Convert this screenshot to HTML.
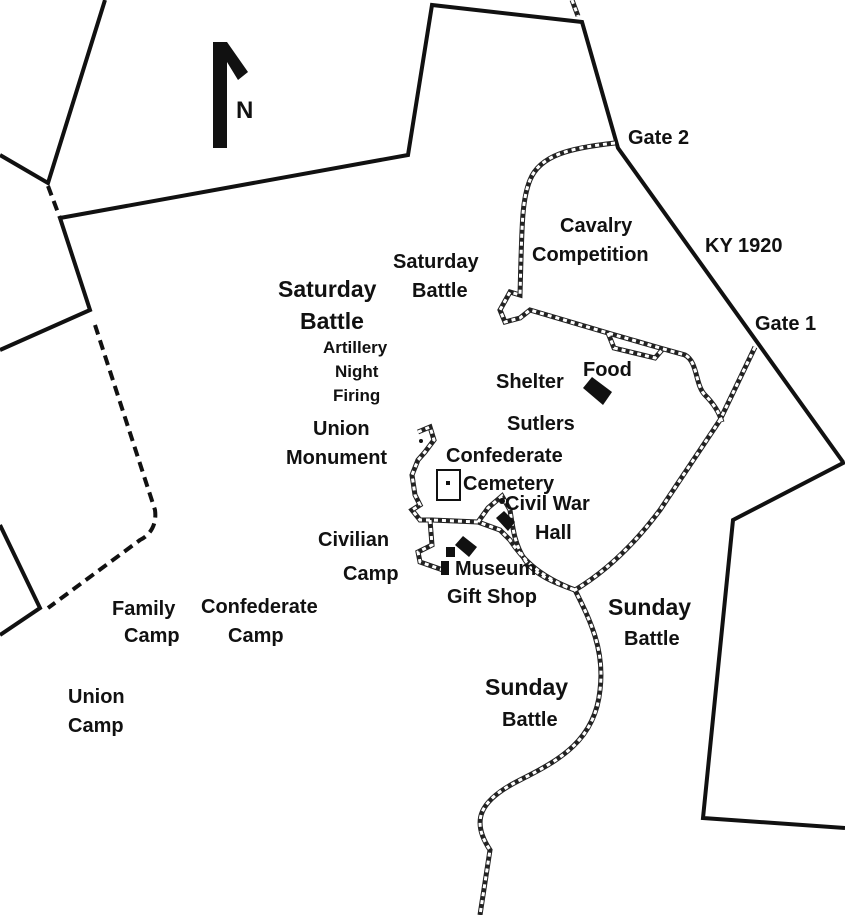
<!DOCTYPE html>
<html><head><meta charset="utf-8"><style>
html,body{margin:0;padding:0;background:#fff}
svg{display:block}
text{font-family:"Liberation Sans",sans-serif;font-weight:bold;fill:#111}
</style></head><body>
<svg width="845" height="915" viewBox="0 0 845 915" xmlns="http://www.w3.org/2000/svg">
<defs>
<g id="roads" fill="none">
<path d="M615,143 C570,148 540,155 530,180 C522,200 522,220 520,295 L510,292 L500,310 L505,322 L520,318 L530,310 L608,333 L660,348 L685,355 C698,362 695,385 705,395 C715,405 720,415 722,422"/>
<path d="M608,333 L614,348 L655,358 L662,350"/>
<path d="M755,347 L720,420 L660,510 C630,550 600,575 575,590 C590,620 605,650 600,690 C595,740 560,760 520,780 C480,800 470,820 490,850 L480,915"/>
<path d="M575,590 C555,583 535,575 525,560 C515,545 513,530 510,510 L502,496 L488,508 L478,522"/>
<path d="M418,432 L430,427 L434,440 L425,452 L418,460 L412,475 L415,495 L420,505 L412,510 L420,520 L432,520 L478,522 L500,530 L510,540 C520,555 535,575 575,590"/>
<path d="M430,520 L432,545 L418,552 L420,562 L443,570"/>
<path d="M572,0 L578,16"/>
</g>
</defs>
<rect width="845" height="915" fill="#fff"/>
<g fill="none" stroke="#111" stroke-width="4" stroke-linejoin="miter">
<polyline points="105,0 48,183 0,155"/>
<polyline points="60,218 408,155 432,5 582,22 618,148 843,462"/>
<polyline points="60,218 90,310 0,350"/>
<polyline points="0,525 40,608 0,635"/>
<polyline points="845,462 733,520 703,818 845,828"/>
</g>
<g fill="none" stroke="#111" stroke-width="4" stroke-dasharray="10 6">
<polyline points="48,186 60,218"/>
<path d="M95,325 L155,510 C157,525 150,535 140,540 L48,608"/>
</g>
<use href="#roads" stroke="#222" stroke-width="5"/>
<use href="#roads" stroke="#fff" stroke-width="3" stroke-dasharray="4 4"/>
<g fill="#111">
<rect x="213" y="42" width="14" height="106"/>
<polygon points="213,42 227,42 248,72 238,80 227,62"/>
<polygon points="583,388 592,377 612,392 603,405"/>
<polygon points="455,545 463,536 477,547 469,557"/>
<polygon points="496,518 504,511 515,522 508,531"/>
<circle cx="502" cy="501" r="3"/>
<rect x="446" y="547" width="9" height="10"/>
<rect x="441" y="561" width="8" height="14"/>
<rect x="446" y="481" width="4" height="4"/>
<circle cx="421" cy="441" r="2"/>
</g>
<rect x="437" y="470" width="23" height="30" fill="none" stroke="#111" stroke-width="2"/>
<g font-size="20">
<text x="236" y="118" font-size="24">N</text>
<text x="628" y="144">Gate 2</text>
<text x="560" y="232">Cavalry</text>
<text x="532" y="261">Competition</text>
<text x="705" y="252">KY 1920</text>
<text x="755" y="330">Gate 1</text>
<text x="393" y="268">Saturday</text>
<text x="412" y="297">Battle</text>
<text x="278" y="297" font-size="23">Saturday</text>
<text x="300" y="329" font-size="23">Battle</text>
<text x="323" y="353" font-size="17">Artillery</text>
<text x="335" y="377" font-size="17">Night</text>
<text x="333" y="401" font-size="17">Firing</text>
<text x="496" y="388">Shelter</text>
<text x="583" y="376">Food</text>
<text x="507" y="430">Sutlers</text>
<text x="313" y="435">Union</text>
<text x="286" y="464">Monument</text>
<text x="446" y="462">Confederate</text>
<text x="463" y="490">Cemetery</text>
<text x="505" y="510">Civil War</text>
<text x="535" y="539">Hall</text>
<text x="318" y="546">Civilian</text>
<text x="343" y="580">Camp</text>
<text x="455" y="575">Museum</text>
<text x="447" y="603">Gift Shop</text>
<text x="608" y="615" font-size="23">Sunday</text>
<text x="624" y="645">Battle</text>
<text x="112" y="615">Family</text>
<text x="124" y="642">Camp</text>
<text x="201" y="613">Confederate</text>
<text x="228" y="642">Camp</text>
<text x="68" y="703">Union</text>
<text x="68" y="732">Camp</text>
<text x="485" y="695" font-size="23">Sunday</text>
<text x="502" y="726">Battle</text>
</g>
</svg>
</body></html>
